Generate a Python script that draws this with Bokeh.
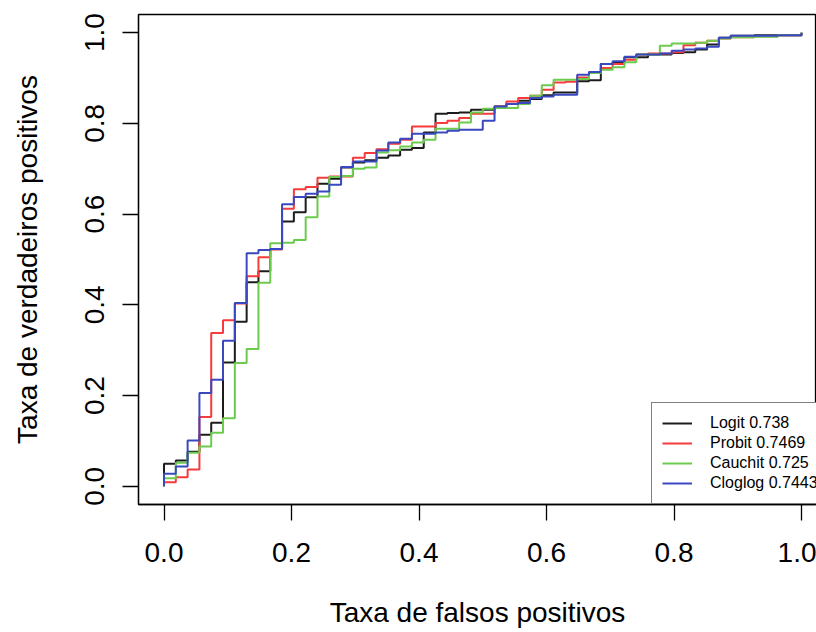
from bokeh.plotting import figure
from bokeh.models import Range1d, FixedTicker, Legend, LegendItem
from bokeh.embed import file_html
from bokeh.resources import INLINE

# number of negatives (horizontal step size of the ROC curves = 1 / n_neg)
n_neg = 54

# true positive rate on each horizontal step (step k spans k/n_neg .. (k+1)/n_neg)
logit = [0.050, 0.057, 0.076, 0.114, 0.140, 0.273, 0.363, 0.450, 0.474, 0.523,
         0.584, 0.604, 0.637, 0.667, 0.678, 0.703, 0.714, 0.719, 0.724, 0.729,
         0.742, 0.746, 0.780, 0.821, 0.823, 0.824, 0.830, 0.830, 0.837, 0.843,
         0.850, 0.854, 0.862, 0.868, 0.868, 0.893, 0.895, 0.931, 0.935, 0.946,
         0.946, 0.952, 0.952, 0.955, 0.957, 0.963, 0.974, 0.989, 0.993, 0.993,
         0.994, 0.994, 0.994, 0.994]
probit = [0.009, 0.020, 0.037, 0.153, 0.338, 0.366, 0.403, 0.463, 0.505, 0.522,
          0.612, 0.655, 0.660, 0.680, 0.683, 0.683, 0.724, 0.735, 0.743, 0.755,
          0.764, 0.793, 0.793, 0.801, 0.806, 0.812, 0.821, 0.821, 0.837, 0.848,
          0.856, 0.861, 0.874, 0.890, 0.892, 0.901, 0.913, 0.922, 0.931, 0.940,
          0.952, 0.954, 0.954, 0.957, 0.972, 0.978, 0.982, 0.987, 0.990, 0.990,
          0.992, 0.992, 0.994, 0.994]
cauchit = [0.018, 0.052, 0.074, 0.088, 0.118, 0.150, 0.272, 0.303, 0.449, 0.536,
           0.537, 0.543, 0.593, 0.639, 0.682, 0.684, 0.700, 0.703, 0.736, 0.741,
           0.749, 0.758, 0.764, 0.788, 0.788, 0.802, 0.824, 0.832, 0.834, 0.834,
           0.843, 0.861, 0.884, 0.896, 0.896, 0.898, 0.911, 0.918, 0.924, 0.935,
           0.952, 0.952, 0.971, 0.976, 0.976, 0.978, 0.982, 0.987, 0.990, 0.990,
           0.991, 0.991, 0.994, 0.994]
cloglog = [0.028, 0.044, 0.101, 0.206, 0.235, 0.321, 0.404, 0.514, 0.521, 0.523,
           0.622, 0.638, 0.645, 0.650, 0.665, 0.704, 0.716, 0.716, 0.740, 0.758,
           0.766, 0.777, 0.777, 0.780, 0.784, 0.786, 0.786, 0.806, 0.837, 0.843,
           0.845, 0.856, 0.859, 0.863, 0.863, 0.907, 0.913, 0.931, 0.937, 0.947,
           0.952, 0.952, 0.954, 0.960, 0.963, 0.965, 0.969, 0.989, 0.993, 0.993,
           0.993, 0.993, 0.994, 0.994]

models = ["Logit", "Probit", "Cauchit", "Cloglog"]
auc = ["0.738", "0.7469", "0.725", "0.7443"]
series = [logit, probit, cauchit, cloglog]
colors = ["#1c1c1c", "#f53b3b", "#6ccb4c", "#3a48c0"]

ticks = [0.0, 0.2, 0.4, 0.6, 0.8, 1.0]
tick_labels = ["0.0", "0.2", "0.4", "0.6", "0.8", "1.0"]
x_title = "Taxa de falsos positivos"
y_title = "Taxa de verdadeiros positivos"

FONT = "Liberation Sans"

p = figure(width=816, height=632, output_backend="svg", toolbar_location=None,
           x_range=Range1d(-0.04, 1.0235), y_range=Range1d(-0.04, 1.04),
           min_border_left=138, min_border_right=0, min_border_top=14,
           min_border_bottom=128)
p.background_fill_color = "white"
p.border_fill_color = "white"
p.outline_line_color = "black"
p.outline_line_width = 1.3
p.grid.visible = False

renderers = []
for levels, col in zip(series, colors):
    xs = [0.0] + [k / n_neg for k in range(n_neg)] + [1.0]
    ys = [0.0] + levels + [1.0]
    r = p.step(xs, ys, mode="after", line_color=col, line_width=2)
    renderers.append(r)

for ax in (p.xaxis[0], p.yaxis[0]):
    ax.ticker = FixedTicker(ticks=ticks)
    ax.major_label_overrides = {t: l for t, l in zip(ticks, tick_labels)}
    ax.major_tick_out = 16
    ax.major_tick_in = 0
    ax.minor_tick_line_color = None
    ax.major_tick_line_color = "black"
    ax.major_tick_line_width = 1.3
    ax.axis_line_color = "black"
    ax.axis_line_width = 1.3
    ax.major_label_text_font = FONT
    ax.major_label_text_font_size = "28px"
    ax.major_label_text_color = "black"
    ax.axis_label_text_font = FONT
    ax.axis_label_text_font_size = "28px"
    ax.axis_label_text_font_style = "normal"
    ax.axis_label_text_color = "black"

p.xaxis.axis_label = x_title
p.xaxis.major_label_standoff = 22
p.xaxis.axis_label_standoff = 32
p.yaxis.axis_label = y_title
p.yaxis.major_label_orientation = "vertical"
p.yaxis.major_label_standoff = 18
p.yaxis.axis_label_standoff = 40

items = [LegendItem(label=f"{m} {a}", renderers=[r])
         for m, a, r in zip(models, auc, renderers)]
legend = Legend(items=items, location=(513, 0), margin=0, padding=10,
                spacing=0, label_height=20, glyph_height=20, glyph_width=30,
                label_standoff=18, label_text_font=FONT,
                label_text_font_size="16px", label_text_color="black",
                border_line_color="black", border_line_width=1.2,
                background_fill_color="white", background_fill_alpha=1.0)
p.add_layout(legend)

open("out.html", "w").write(file_html(p, INLINE))
